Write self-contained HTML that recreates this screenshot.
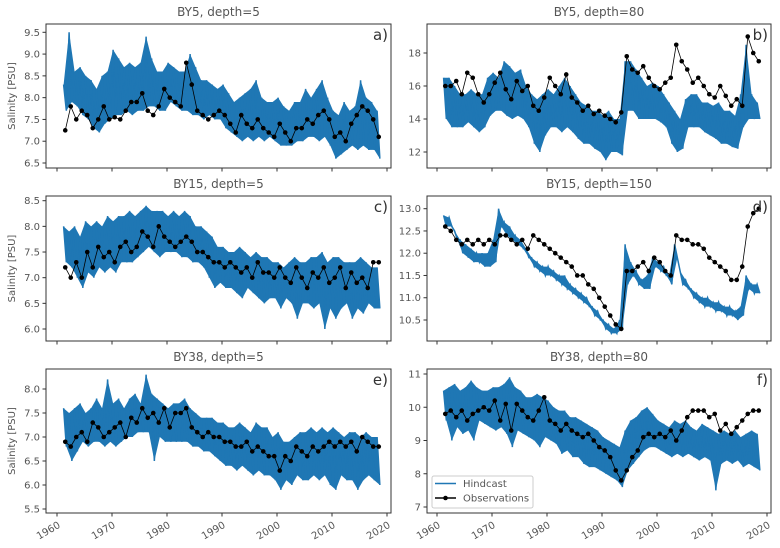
<!DOCTYPE html>
<html><head><meta charset="utf-8">
<style>
html,body{margin:0;padding:0;background:#fff;}
svg{display:block;font-family:"DejaVu Sans","Liberation Sans",sans-serif;}
.tk{fill:#555;font-size:10px;}
.ttl{fill:#555;font-size:12px;}
</style></head>
<body>
<svg id="chart" width="780" height="548" viewBox="0 0 780 548"></svg>
<script>
const years = [];
for (let y = 1961; y <= 2018; y++) years.push(y);
const xTicks = [1960,1970,1980,1990,2000,2010,2020];

const aHi=[8.3,9.5,8.6,8.7,8.5,8.4,8.2,8.5,8.6,9.1,8.9,8.7,8.8,8.7,8.8,9.4,8.9,8.6,8.6,8.8,8.7,8.6,8.6,9.0,8.7,8.4,8.4,8.3,8.2,8.3,8.1,7.9,8.0,8.1,8.2,8.4,8.0,7.9,7.9,8.0,7.8,7.7,7.9,7.9,8.2,8.0,8.2,8.4,8.0,7.7,7.6,7.9,7.7,7.8,8.4,8.0,7.9,7.7];
const aLo=[7.7,7.9,7.8,7.6,7.5,7.3,7.2,7.4,7.5,7.6,7.6,7.7,7.6,7.7,7.7,7.8,7.8,7.7,7.7,7.9,7.8,7.7,7.7,7.6,7.6,7.5,7.6,7.5,7.5,7.3,7.2,7.1,7.0,7.1,7.0,7.1,7.0,7.1,7.0,6.9,6.9,6.9,7.0,7.0,7.1,7.1,7.0,7.1,6.9,6.6,6.7,6.8,6.9,6.8,6.9,6.8,6.8,6.6];
const aObs=[7.25,7.8,7.5,7.7,7.6,7.3,7.5,7.8,7.5,7.55,7.5,7.7,7.9,7.9,8.1,7.7,7.6,7.8,8.2,8.0,7.9,7.8,8.8,8.3,7.7,7.6,7.5,7.6,7.7,7.6,7.4,7.2,7.6,7.4,7.3,7.5,7.3,7.2,7.1,7.4,7.2,7.0,7.3,7.3,7.5,7.4,7.6,7.7,7.5,7.1,7.2,7.0,7.4,7.6,7.8,7.7,7.5,7.1];

const bHi=[16.5,16.5,16,15.5,15.5,15.8,15.5,15.5,16.5,16.8,16.5,17.5,17.2,16.8,17,16,15.5,15.2,15.5,15.8,15.5,16,16.5,16,15.5,15,14.8,14.5,14.5,14.2,14.5,14,14,17.5,17.5,17,16.5,16,16.2,16,15.5,15,14.5,14,15.2,15.5,15.5,15,15,14.8,15,14.5,14.5,14.2,15.5,18.5,15.5,15];
const bLo=[14,13.5,13.5,13.5,13.8,13.5,13.2,13.5,14.2,14.5,14.5,14.2,14,14.2,14,13.5,12.5,12,13,13.5,13.5,13.2,13.5,13.2,12.8,12.5,12.5,12.2,12,11.5,12,12,11.8,14.5,14.5,14,14,14,14,13.8,13.5,12.5,12,12.2,13.5,13.5,13.5,13.2,13,12.8,12.5,12.5,12.3,12.2,13.5,14,14,14];
const bObs=[16.0,16.0,16.3,15.5,16.8,16.5,15.5,15.0,15.5,16.2,16.8,15.8,15.2,16.3,15.7,16.0,14.8,14.5,15.3,16.5,16.0,15.5,16.7,15.3,15.0,14.5,14.8,14.3,14.5,14.2,14.0,13.8,14.4,17.8,17.0,16.8,17.2,16.5,16.0,15.8,16.2,16.5,18.5,17.5,17.0,16.2,16.5,16.0,15.5,15.3,16.0,15.4,14.8,15.2,14.8,19.0,18.0,17.5];

const cHi=[8.0,7.9,8.0,7.8,8.1,8.0,8.1,8.0,8.2,8.1,8.2,8.2,8.3,8.2,8.3,8.4,8.3,8.3,8.3,8.2,8.3,8.2,8.3,8.2,8.0,8.0,7.9,7.8,7.6,7.6,7.5,7.5,7.6,7.5,7.4,7.5,7.4,7.4,7.3,7.3,7.2,7.3,7.4,7.3,7.3,7.4,7.4,7.5,7.3,7.4,7.4,7.3,7.3,7.3,7.4,7.3,7.2,7.2];
const cLo=[7.3,7.2,7.0,6.8,7.1,7.0,7.2,7.1,7.2,7.1,7.3,7.3,7.3,7.4,7.5,7.6,7.5,7.4,7.5,7.5,7.5,7.4,7.4,7.3,7.3,7.2,7.0,6.8,6.9,6.8,6.8,6.7,6.6,6.8,6.7,6.6,6.5,6.6,6.6,6.4,6.6,6.5,6.2,6.5,6.5,6.4,6.5,6.0,6.4,6.2,6.4,6.5,6.2,6.4,6.3,6.5,6.4,6.4];
const cObs=[7.2,7.0,7.3,7.0,7.5,7.2,7.6,7.4,7.5,7.3,7.6,7.7,7.5,7.6,7.9,7.8,7.6,8.0,7.8,7.7,7.6,7.7,7.8,7.7,7.5,7.5,7.4,7.3,7.3,7.2,7.3,7.2,7.1,7.2,7.0,7.3,7.1,7.1,7.0,7.2,7.0,6.9,7.2,7.0,6.8,7.1,7.0,7.2,6.9,7.0,7.2,6.8,7.1,6.9,7.0,6.8,7.3,7.3];

const dHi=[12.85,12.8,12.5,12.3,12.2,12.1,12.0,12.0,12.0,12.3,13.0,12.7,12.6,12.4,12.3,12.1,11.9,11.8,11.7,11.7,11.6,11.5,11.5,11.3,11.2,11.1,11.0,10.8,10.7,10.5,10.4,10.3,10.5,12.2,11.8,11.6,11.4,11.5,11.9,11.8,11.7,11.5,12.2,11.6,11.4,11.2,11.1,11.0,11.0,10.9,10.9,10.8,10.8,10.7,10.8,11.5,11.3,11.3];
const dLo=[12.6,12.6,12.3,12.0,11.9,11.8,11.8,11.7,11.7,11.8,12.6,12.4,12.3,12.2,12.1,11.9,11.7,11.6,11.5,11.5,11.4,11.3,11.2,11.1,11.0,10.9,10.8,10.6,10.5,10.3,10.2,10.2,10.3,11.3,11.5,11.3,11.2,11.2,11.7,11.6,11.5,11.3,11.9,11.3,11.2,11.0,10.9,10.8,10.8,10.7,10.7,10.6,10.6,10.5,10.6,11.2,11.1,11.1];
const dObs=[12.6,12.5,12.3,12.2,12.3,12.2,12.3,12.2,12.3,12.2,12.4,12.4,12.3,12.2,12.3,12.1,12.4,12.3,12.2,12.1,12.0,11.9,11.8,11.7,11.5,11.5,11.3,11.2,11.0,10.8,10.6,10.4,10.3,11.6,11.6,11.7,11.8,11.6,11.9,11.8,11.6,11.5,12.4,12.3,12.3,12.2,12.2,12.1,11.9,11.8,11.7,11.6,11.4,11.4,11.7,12.6,12.9,13.0];

const eHi=[7.6,7.5,7.6,7.7,7.5,7.6,7.8,7.6,8.2,7.7,7.8,7.6,7.8,7.9,7.7,8.3,7.9,7.8,7.7,7.6,7.7,7.7,7.8,7.6,7.5,7.4,7.4,7.4,7.3,7.3,7.2,7.2,7.3,7.2,7.1,7.3,7.2,7.2,7.0,7.1,6.9,6.9,7.0,7.1,7.1,7.2,7.1,7.2,7.1,7.2,7.1,7.0,7.1,7.1,7.0,7.1,7.0,7.0];
const eLo=[6.8,6.5,6.7,6.9,6.8,6.9,6.9,6.8,6.9,6.8,6.9,7.0,7.0,7.1,7.1,7.1,6.5,7.0,6.9,6.9,6.9,6.9,6.9,6.8,6.8,6.7,6.7,6.6,6.5,6.4,6.4,6.3,6.4,6.3,6.2,6.3,6.2,6.2,6.1,5.9,6.1,6.0,6.2,6.1,6.1,6.2,6.1,6.2,6.0,5.9,6.2,6.1,6.1,5.9,6.1,6.2,6.1,6.0];
const eObs=[6.9,6.8,7.0,7.1,6.9,7.3,7.2,7.0,7.1,7.2,7.3,7.0,7.4,7.3,7.6,7.4,7.5,7.3,7.6,7.2,7.5,7.5,7.6,7.2,7.1,7.0,7.1,7.0,7.0,6.9,6.9,6.8,6.8,6.9,6.7,6.8,6.7,6.6,6.6,6.3,6.6,6.5,6.8,6.7,6.6,6.8,6.7,6.8,6.9,6.8,6.9,6.8,6.9,6.7,7.0,6.9,6.8,6.8];

const fHi=[10.5,10.6,10.7,10.5,10.6,10.8,10.6,10.5,10.5,10.6,10.6,10.7,10.9,10.6,10.5,10.3,10.3,10.4,10.3,10.2,10.0,9.9,9.9,9.7,9.7,9.6,9.5,9.4,9.3,9.1,9.0,8.9,8.8,9.3,9.6,9.7,9.9,10.0,9.8,9.6,9.5,9.4,9.6,9.5,9.6,9.4,9.3,9.5,9.4,9.3,9.2,9.3,9.2,9.3,9.1,9.2,9.3,9.2];
const fLo=[9.6,9.0,9.4,9.2,9.3,9.0,9.6,9.5,9.4,9.3,9.4,9.2,8.8,9.3,9.2,9.1,9.0,8.8,9.1,9.0,8.9,8.6,8.7,8.5,8.5,8.3,8.2,8.2,8.1,8.0,7.9,7.8,7.6,8.1,8.3,8.5,8.7,8.8,8.8,8.7,8.6,8.5,8.6,8.5,8.6,8.5,8.4,8.5,8.4,7.5,8.3,8.4,8.3,8.4,8.2,8.3,8.2,8.1];
const fObs=[9.8,9.9,9.7,9.9,9.6,9.8,9.9,10.0,9.9,10.2,9.6,10.1,9.3,10.1,9.9,9.7,9.6,9.9,10.3,9.6,9.5,9.3,9.5,9.3,9.2,9.1,9.2,9.0,8.8,8.7,8.5,8.1,7.8,8.1,8.5,8.7,9.1,9.2,9.1,9.2,9.1,9.3,9.0,9.3,9.7,9.9,9.9,9.9,9.7,9.8,9.3,9.5,9.2,9.4,9.6,9.8,9.9,9.9];

const aTicks=[6.5,7.0,7.5,8.0,8.5,9.0,9.5];
const bTicks=[12,14,16,18];
const cTicks=[6.0,6.5,7.0,7.5,8.0,8.5];
const dTicks=[10.5,11.0,11.5,12.0,12.5,13.0];
const eTicks=[5.5,6.0,6.5,7.0,7.5,8.0];
const fTicks=[7,8,9,10,11];

const NS="http://www.w3.org/2000/svg";
const svg=document.getElementById('chart');
function mk(tag,attrs,parent){const e=document.createElementNS(NS,tag);for(const k in attrs)e.setAttribute(k,attrs[k]);(parent||svg).appendChild(e);return e;}

const panels=[
 {id:'a',title:'BY5, depth=5',left:true,box:[46,24,391,168],v:[6.5,163,9.5,32.3],hi:aHi,lo:aLo,obs:aObs,ticks:aTicks,dec:1,ylab:true,bottom:false},
 {id:'b',title:'BY5, depth=80',left:false,box:[427,24,771,168],v:[12,152,18,53],hi:bHi,lo:bLo,obs:bObs,ticks:bTicks,dec:0,ylab:false,bottom:false},
 {id:'c',title:'BY15, depth=5',left:true,box:[46,196,391,341],v:[6.0,329,8.5,200.7],hi:cHi,lo:cLo,obs:cObs,ticks:cTicks,dec:1,ylab:true,bottom:false},
 {id:'d',title:'BY15, depth=150',left:false,box:[427,196,771,341],v:[10.5,320,13.0,208.7],hi:dHi,lo:dLo,obs:dObs,ticks:dTicks,dec:1,ylab:false,bottom:false},
 {id:'e',title:'BY38, depth=5',left:true,box:[46,369,391,513],v:[5.5,509,8.0,389],hi:eHi,lo:eLo,obs:eObs,ticks:eTicks,dec:1,ylab:true,bottom:true},
 {id:'f',title:'BY38, depth=80',left:false,box:[427,369,771,513],v:[7,507,11,374],hi:fHi,lo:fLo,obs:fObs,ticks:fTicks,dec:0,ylab:false,bottom:true}
];

panels.forEach(p=>{
  const [x0,y0,x1,y1]=p.box;
  const xs=yr=>(p.left?57:437)+(yr-1960)*5.5;
  const ys=v=>p.v[1]+(v-p.v[0])*(p.v[3]-p.v[1])/(p.v[2]-p.v[0]);
  const g=mk('g',{});
  
  
  const t=mk('text',{x:(x0+x1)/2,y:y0-8,'text-anchor':'middle',class:'ttl'},g);
  t.textContent=p.title;
  
  
  let pts=[];
  years.forEach((yr,i)=>pts.push(xs(yr+0.2)+','+ys(p.hi[i])));
  for(let i=years.length-1;i>=0;i--)pts.push(xs(years[i]+0.7)+','+ys(p.lo[i]));
  const band=mk('polygon',{points:pts.join(' '),fill:'#1f77b4','fill-opacity':1},g);
  
  
  let d='';
  years.forEach((yr,i)=>{d+=(i?'L':'M')+xs(yr+0.2)+','+ys(p.hi[i])+'L'+xs(yr+0.7)+','+ys(p.lo[i]);});
  const hl=mk('path',{d:d,fill:'none',stroke:'#1f77b4','stroke-width':1.5},g);
  
  
  let od='';
  years.forEach((yr,i)=>{od+=(i?'L':'M')+xs(yr+0.5)+','+ys(p.obs[i]);});
  const ol=mk('path',{d:od,fill:'none',stroke:'#000','stroke-width':0.8},g);
  
  
  years.forEach((yr,i)=>{
    const c=mk('circle',{cx:xs(yr+0.5),cy:ys(p.obs[i]),r:2.3,fill:'#000'},g);
    
    
  });
  const fr=mk('rect',{x:x0,y:y0,width:x1-x0,height:y1-y0,fill:'none',stroke:'#333','stroke-width':1},g);
  
  
  p.ticks.forEach(v=>{
    const yy=ys(v);
    mk('line',{x1:x0-3.5,x2:x0,y1:yy,y2:yy,stroke:'#333'},g);
    const tl=mk('text',{x:x0-6,y:yy+3.5,'text-anchor':'end',class:'tk'},g);
    tl.textContent=v.toFixed(p.dec);
    
    
  });
  xTicks.forEach(yr=>{
    const xx=xs(yr);
    mk('line',{x1:xx,x2:xx,y1:y1,y2:y1+3.5,stroke:'#333'},g);
    if(p.bottom){
      const tl=mk('text',{x:xx+4,y:y1+14,'text-anchor':'end',class:'tk',transform:'rotate(-30 '+(xx+4)+' '+(y1+14)+')'},g);
      tl.textContent=yr;
      
      
    }
  });
  if(p.ylab){
    const yl=mk('text',{x:15,y:(y0+y1)/2,'text-anchor':'middle',class:'tk',transform:'rotate(-90 15 '+((y0+y1)/2)+')'},g);
    yl.textContent='Salinity [PSU]';
    
    
  }
  const lt=mk('text',{x:x1-3,y:y0+16,'text-anchor':'end','font-size':'15px',fill:'#333'},g);
  lt.textContent=p.id+')';
  
  
});

const lg=mk('g',{});


mk('rect',{x:432,y:476,width:101,height:32,fill:'#fff','fill-opacity':0.85,stroke:'#ccc',rx:2},lg);
mk('line',{x1:435,x2:456,y1:483.5,y2:483.5,stroke:'#1f77b4','stroke-width':1.5},lg);
const l1=mk('text',{x:463,y:487,class:'tk'},lg);l1.textContent='Hindcast';


mk('line',{x1:435,x2:456,y1:498,y2:498,stroke:'#000','stroke-width':1.5},lg);
mk('circle',{cx:445.5,cy:498,r:2.3,fill:'#000'},lg);
const l2=mk('text',{x:463,y:501.5,class:'tk'},lg);l2.textContent='Observations';


</script>
</body></html>
